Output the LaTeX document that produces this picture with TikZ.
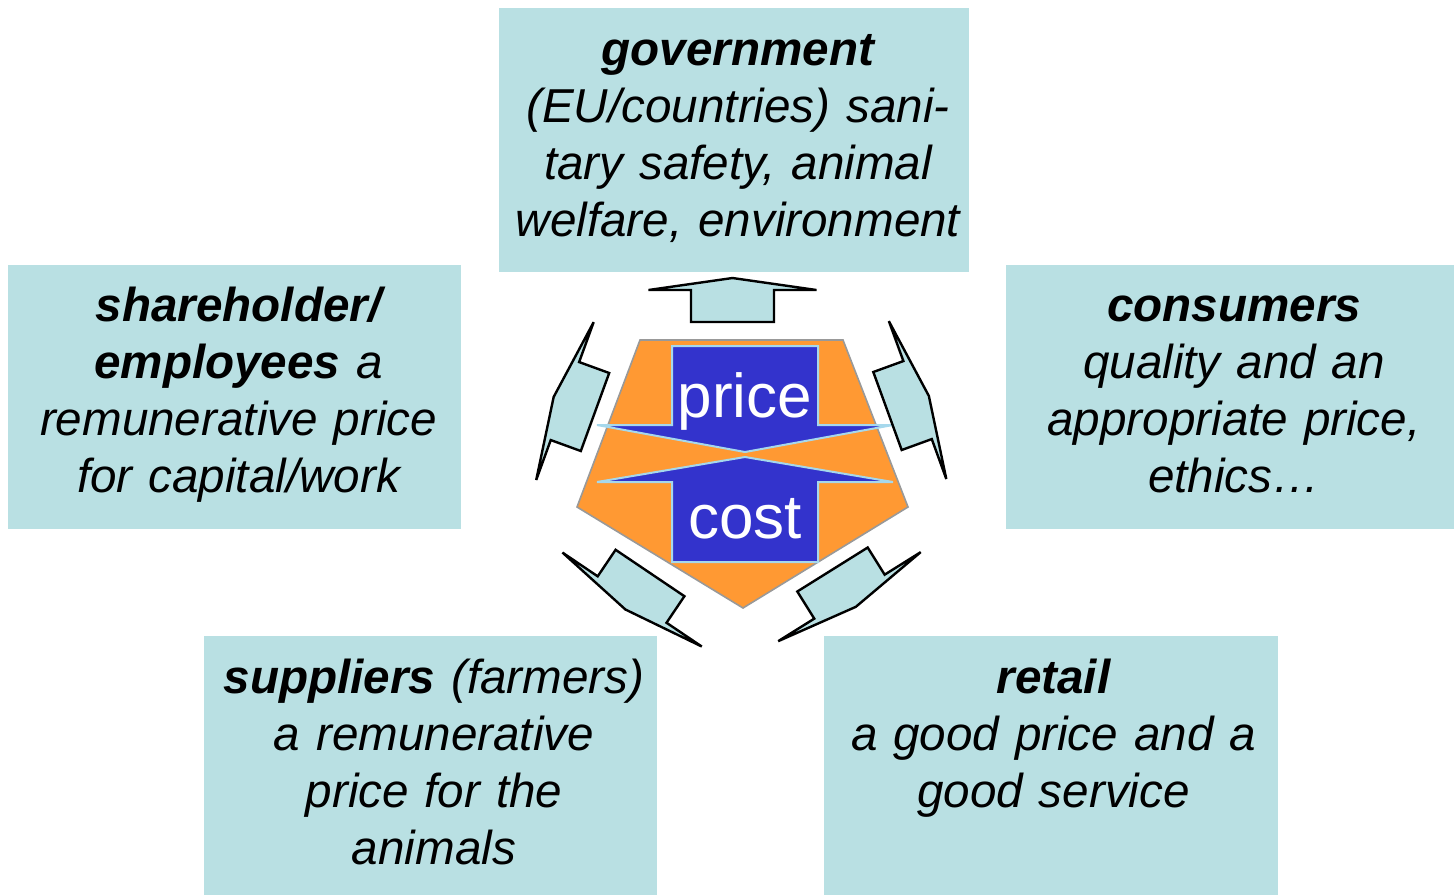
\documentclass[tikz,border=0pt]{standalone}
\usepackage{fontspec}
\setmainfont{Liberation Sans}
\begin{document}
\begin{tikzpicture}[x=0.5pt,y=-0.5pt,
  box/.style={fill=boxteal, draw=none, inner sep=0pt, outer sep=0pt, anchor=north west},
  boxtext/.style={anchor=north, inner sep=0pt, text width=240pt, align=center,
    font=\fontsize{23.8}{28.5}\selectfont\itshape},
  smallarrow/.style={fill=boxteal, draw=black, line width=1.2pt},
  bigarrow/.style={fill=arrowblue, draw=edgeblue, line width=1pt},
  pics/outarrow/.style={code={
    \draw[smallarrow] (0,-41.5) -- (32,-41.5) -- (32,-84) -- (44,0)
      -- (32,84) -- (32,41.5) -- (0,41.5) -- cycle;}}
]
\definecolor{boxteal}{HTML}{B9E0E3}
\definecolor{penta}{HTML}{FF9933}
\definecolor{arrowblue}{HTML}{3333CC}
\definecolor{edgeblue}{HTML}{A6D8EC}
\definecolor{pentaedge}{HTML}{999999}
\newcommand{\hd}[1]{\rule{0pt}{20pt}\textbf{#1}}

\useasboundingbox (0,0) rectangle (1454,895);

% stakeholder boxes
\node[box, minimum width=235pt, minimum height=132pt] (gov) at (499,8) {};
\node[box, minimum width=226.5pt, minimum height=132pt] (share) at (8,265) {};
\node[box, minimum width=224pt, minimum height=132pt] (cons) at (1006,265) {};
\node[box, minimum width=226.5pt, minimum height=129.5pt] (supp) at (204,636) {};
\node[box, minimum width=227pt, minimum height=129.5pt] (retail) at (824,636) {};

\node[boxtext] (govtext) at (738,25)
  {\hd{government}\\(EU/countries) sani-\\tary safety, animal\\welfare, environment};
\node[boxtext] (sharetext) at (238.5,281)
  {\hd{shareholder/}\\\textbf{employees} a\\remunerative price\\for capital/work};
\node[boxtext] (constext) at (1234,281)
  {\hd{consumers}\\quality and an\\appropriate price,\\ethics…};
\node[boxtext] (supptext) at (434,653)
  {\hd{suppliers} (farmers)\\a remunerative\\price for the\\animals};
\node[boxtext] (retailtext) at (1053.5,653)
  {\hd{retail}\\a good price and a\\good service};

% central pentagon with price / cost arrows
\draw[fill=penta, draw=pentaedge, line width=0.8pt]
  (640,340) -- (843,340) -- (908,507) -- (743,608) -- (577,507) -- cycle;
\draw[bigarrow] (672,346) -- (818,346) -- (818,425) -- (893,425) -- (745,452)
  -- (597,425) -- (672,425) -- cycle;
\draw[bigarrow] (672,562) -- (818,562) -- (818,482) -- (893,482) -- (745,457)
  -- (597,482) -- (672,482) -- cycle;
\node[anchor=base, text=white, font=\fontsize{31}{31}\selectfont] (price) at (745,417) {price};
\node[anchor=base, text=white, font=\fontsize{31}{31}\selectfont] (cost) at (745,538) {cost};

% outward arrows towards each stakeholder
\pic[rotate=90] at (732.5,322) {outarrow};
\pic[rotate=160] at (595,412) {outarrow};
\pic[rotate=20] at (887.5,411) {outarrow};
\pic[rotate=236] at (650,573) {outarrow};
\pic[rotate=302] at (832.5,569.5) {outarrow};
\end{tikzpicture}
\end{document}
